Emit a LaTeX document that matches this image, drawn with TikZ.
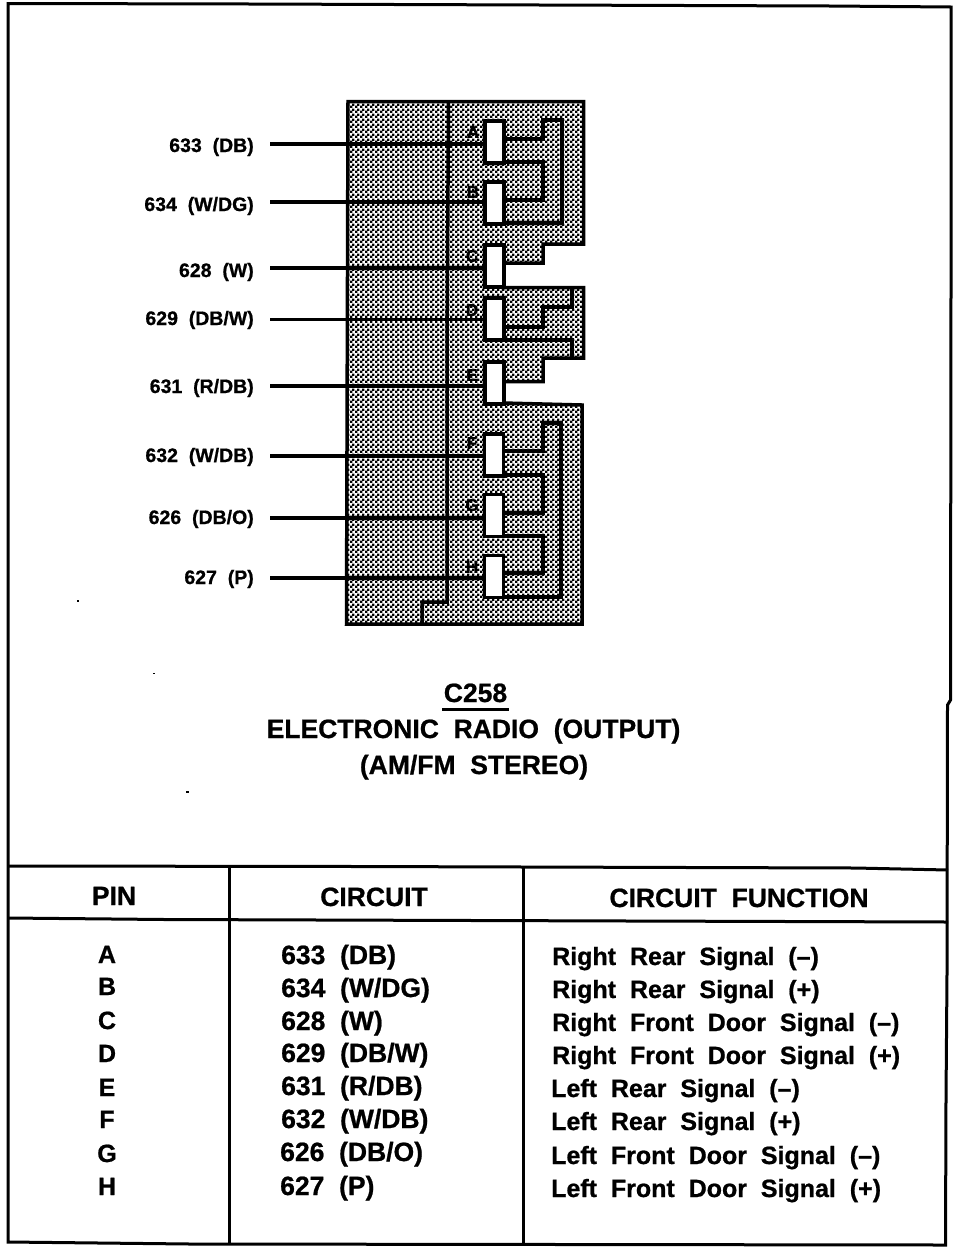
\documentclass[tikz,border=0pt]{standalone}
\usepackage{fontspec}
\setmainfont[WordSpace=2.0,BoldFeatures={FakeBold=0.8}]{Liberation Sans}
\usetikzlibrary{patterns}
\pgfdeclarepatternformonly{dither}{\pgfpointorigin}{\pgfqpoint{5pt}{5pt}}{\pgfqpoint{5pt}{5pt}}{%
  \pgfpathrectangle{\pgfqpoint{0pt}{0pt}}{\pgfqpoint{2.8pt}{2.8pt}}%
  \pgfpathrectangle{\pgfqpoint{2.5pt}{2.5pt}}{\pgfqpoint{2.8pt}{2.8pt}}%
  \pgfusepath{fill}}
\tikzset{
  frameline/.style={line width=3pt,line join=miter},
  trace/.style={line width=3.5pt,line join=miter,line cap=butt},
  housing/.style={line width=3.5pt,line join=miter,pattern=dither,pattern color=black},
  pinbox/.style={draw,line width=3.5pt,fill=white,minimum width=19pt,minimum height=42pt,inner sep=0pt,outer sep=0pt},
  wirelabel/.style={anchor=base east,inner sep=0pt,font=\fontsize{19.5}{20}\selectfont\bfseries},
  pinletter/.style={inner sep=0pt,font=\fontsize{17}{18}\selectfont\bfseries},
  titletext/.style={anchor=base,inner sep=0pt,font=\fontsize{26.5}{28}\selectfont\bfseries},
  headtext/.style={anchor=base,inner sep=0pt,font=\fontsize{26.5}{28}\selectfont\bfseries},
  celltext/.style={anchor=base west,inner sep=0pt,font=\fontsize{26.5}{28}\selectfont\bfseries},
  functext/.style={anchor=base west,inner sep=0pt,font=\fontsize{25}{27}\selectfont\bfseries},
  pincell/.style={anchor=base,inner sep=0pt,font=\fontsize{25}{27}\selectfont\bfseries},
  speck/.style={fill=black}
}
\begin{document}
\begin{tikzpicture}[x=1pt,y=-1pt]
\useasboundingbox (0,0) rectangle (960,1248);
\fill[white] (0,0) rectangle (960,1248);
% outer frame
\draw[frameline] (8,3.5) -- (250,4) -- (830,6) -- (951,7) -- (951,290) -- (950.5,700) -- (947.5,705) -- (947,974) -- (946,1100) -- (945.5,1245) -- (190,1244) -- (8,1242) -- cycle;
% table rules
\draw[frameline] (8,866) -- (360,866.5) -- (855,868) -- (948,870);
\draw[frameline] (8,918) -- (165,919.5) -- (630,921) -- (948,922);
\draw[frameline] (229.5,866) -- (229.5,1243);
\draw[frameline] (523,868) -- (523,1244);
% connector housing
\draw[housing] (348,101.5) -- (583.5,101.5) -- (583.5,244) -- (543,244) -- (543,263) -- (503,263) -- (503,287.5)
  -- (583.5,287.5) -- (583.5,358) -- (543,358) -- (543,381.5) -- (503,381.5) -- (503,403) -- (582,405)
  -- (582,624) -- (346.5,624) -- cycle;
\draw[trace] (448.5,101.5) -- (447,350) -- (447,602) -- (422,602) -- (422,624);
% pins
\node[pinbox] (pA) at (494.5,142) {};
\node[pinbox] (pB) at (494.5,203) {};
\node[pinbox] (pC) at (494.5,266) {};
\node[pinbox] (pD) at (494.5,319) {};
\node[pinbox] (pE) at (494.5,383) {};
\node[pinbox] (pF) at (494,455) {};
\node[pinbox] (pG) at (494,515.5) {};
\node[pinbox] (pH) at (494,576.5) {};
% pin letters
\node[pinletter] (lA) at (473,132) {A};
\node[pinletter] (lB) at (473,192) {B};
\node[pinletter] (lC) at (472,256) {C};
\node[pinletter] (lD) at (472,310) {D};
\node[pinletter] (lE) at (472,375) {E};
\node[pinletter] (lF) at (472,443) {F};
\node[pinletter] (lG) at (472,505) {G};
\node[pinletter] (lH) at (472,567) {H};
% wire labels and free ends
\node[wirelabel] (w633) at (254,152) {633 (DB)};
\node[wirelabel] (w634) at (254,211) {634 (W/DG)};
\node[wirelabel] (w628) at (254,277) {628 (W)};
\node[wirelabel] (w629) at (254,325) {629 (DB/W)};
\node[wirelabel] (w631) at (254,393) {631 (R/DB)};
\node[wirelabel] (w632) at (254,462) {632 (W/DB)};
\node[wirelabel] (w626) at (254,524) {626 (DB/O)};
\node[wirelabel] (w627) at (254,584) {627 (P)};
\coordinate (e633) at (270,144);
\coordinate (e634) at (270,202);
\coordinate (e628) at (270,268);
\coordinate (e629) at (270,319.5);
\coordinate (e631) at (270,386);
\coordinate (e632) at (270,456);
\coordinate (e626) at (270,518);
\coordinate (e627) at (270,578);
\draw[trace] (e633) -- (pA.west |- e633);
\draw[trace] (e634) -- (pB.west |- e634);
\draw[trace] (e628) -- (pC.west |- e628);
\draw[trace] (e629) -- (pD.west |- e629);
\draw[trace] (e631) -- (pE.west |- e631);
\draw[trace] (e632) -- (pF.west |- e632);
\draw[trace] (e626) -- (pG.west |- e626);
\draw[trace] (e627) -- (pH.west |- e627);
% internal traces
\draw[trace] (pA.east |- 0,139) -- (543,139) -- (543,120) -- (562,120) -- (562,223) -- (pB.east |- 0,223);
\draw[trace] (pA.east |- 0,162) -- (543,162) -- (543,200) -- (pB.east |- 0,200);
\draw[trace] (pD.east |- 0,327) -- (543,327) -- (543,307) -- (572,307) -- (572,288);
\draw[trace] (pD.east |- 0,340) -- (572,340) -- (572,358);
\draw[trace] (pF.east |- 0,451) -- (543,451) -- (543,423) -- (561,423) -- (561,597) -- (pH.east |- 0,597);
\draw[trace] (pF.east |- 0,475) -- (543,475) -- (543,513) -- (pG.east |- 0,513);
\draw[trace] (pG.east |- 0,536) -- (543,536) -- (543,573) -- (pH.east |- 0,573);
% title
\node[titletext] (t1) at (475.5,702) {C258};
\coordinate (u1) at (442,709.5);
\coordinate (u2) at (509,709.5);
\draw[line width=3pt] (u1) -- (u2);
\node[titletext] (t2) at (473.5,738) {ELECTRONIC RADIO (OUTPUT)};
\node[titletext] (t3) at (474,774) {(AM/FM STEREO)};
% table headers
\node[headtext] (hp) at (114,905) {PIN};
\node[headtext] (hc) at (374,906) {CIRCUIT};
\node[headtext] (hf) at (739,907) {CIRCUIT FUNCTION};
% pin column
\node[pincell] at (107,963) {A};
\node[pincell] at (107,995) {B};
\node[pincell] at (107,1029) {C};
\node[pincell] at (107,1062) {D};
\node[pincell] at (107,1096) {E};
\node[pincell] at (107,1128) {F};
\node[pincell] at (107,1162) {G};
\node[pincell] at (107,1195) {H};
% circuit column
\node[celltext] at (281,964) {633 (DB)};
\node[celltext] at (281,997) {634 (W/DG)};
\node[celltext] at (281,1030) {628 (W)};
\node[celltext] at (281,1062) {629 (DB/W)};
\node[celltext] at (281,1095) {631 (R/DB)};
\node[celltext] at (281,1128) {632 (W/DB)};
\node[celltext] at (280,1161) {626 (DB/O)};
\node[celltext] at (280,1195) {627 (P)};
% function column
\node[functext] at (552,965) {Right Rear Signal (–)};
\node[functext] at (552,998) {Right Rear Signal (+)};
\node[functext] at (552,1031) {Right Front Door Signal (–)};
\node[functext] at (552,1064) {Right Front Door Signal (+)};
\node[functext] at (551,1097) {Left Rear Signal (–)};
\node[functext] at (551,1130) {Left Rear Signal (+)};
\node[functext] at (551,1164) {Left Front Door Signal (–)};
\node[functext] at (551,1197) {Left Front Door Signal (+)};
% scan specks
\fill[speck] (77,600) rectangle (79,602);
\fill[speck] (153,672.5) rectangle (154.5,674);
\fill[speck] (186,791) rectangle (189,793);
\end{tikzpicture}
\end{document}
